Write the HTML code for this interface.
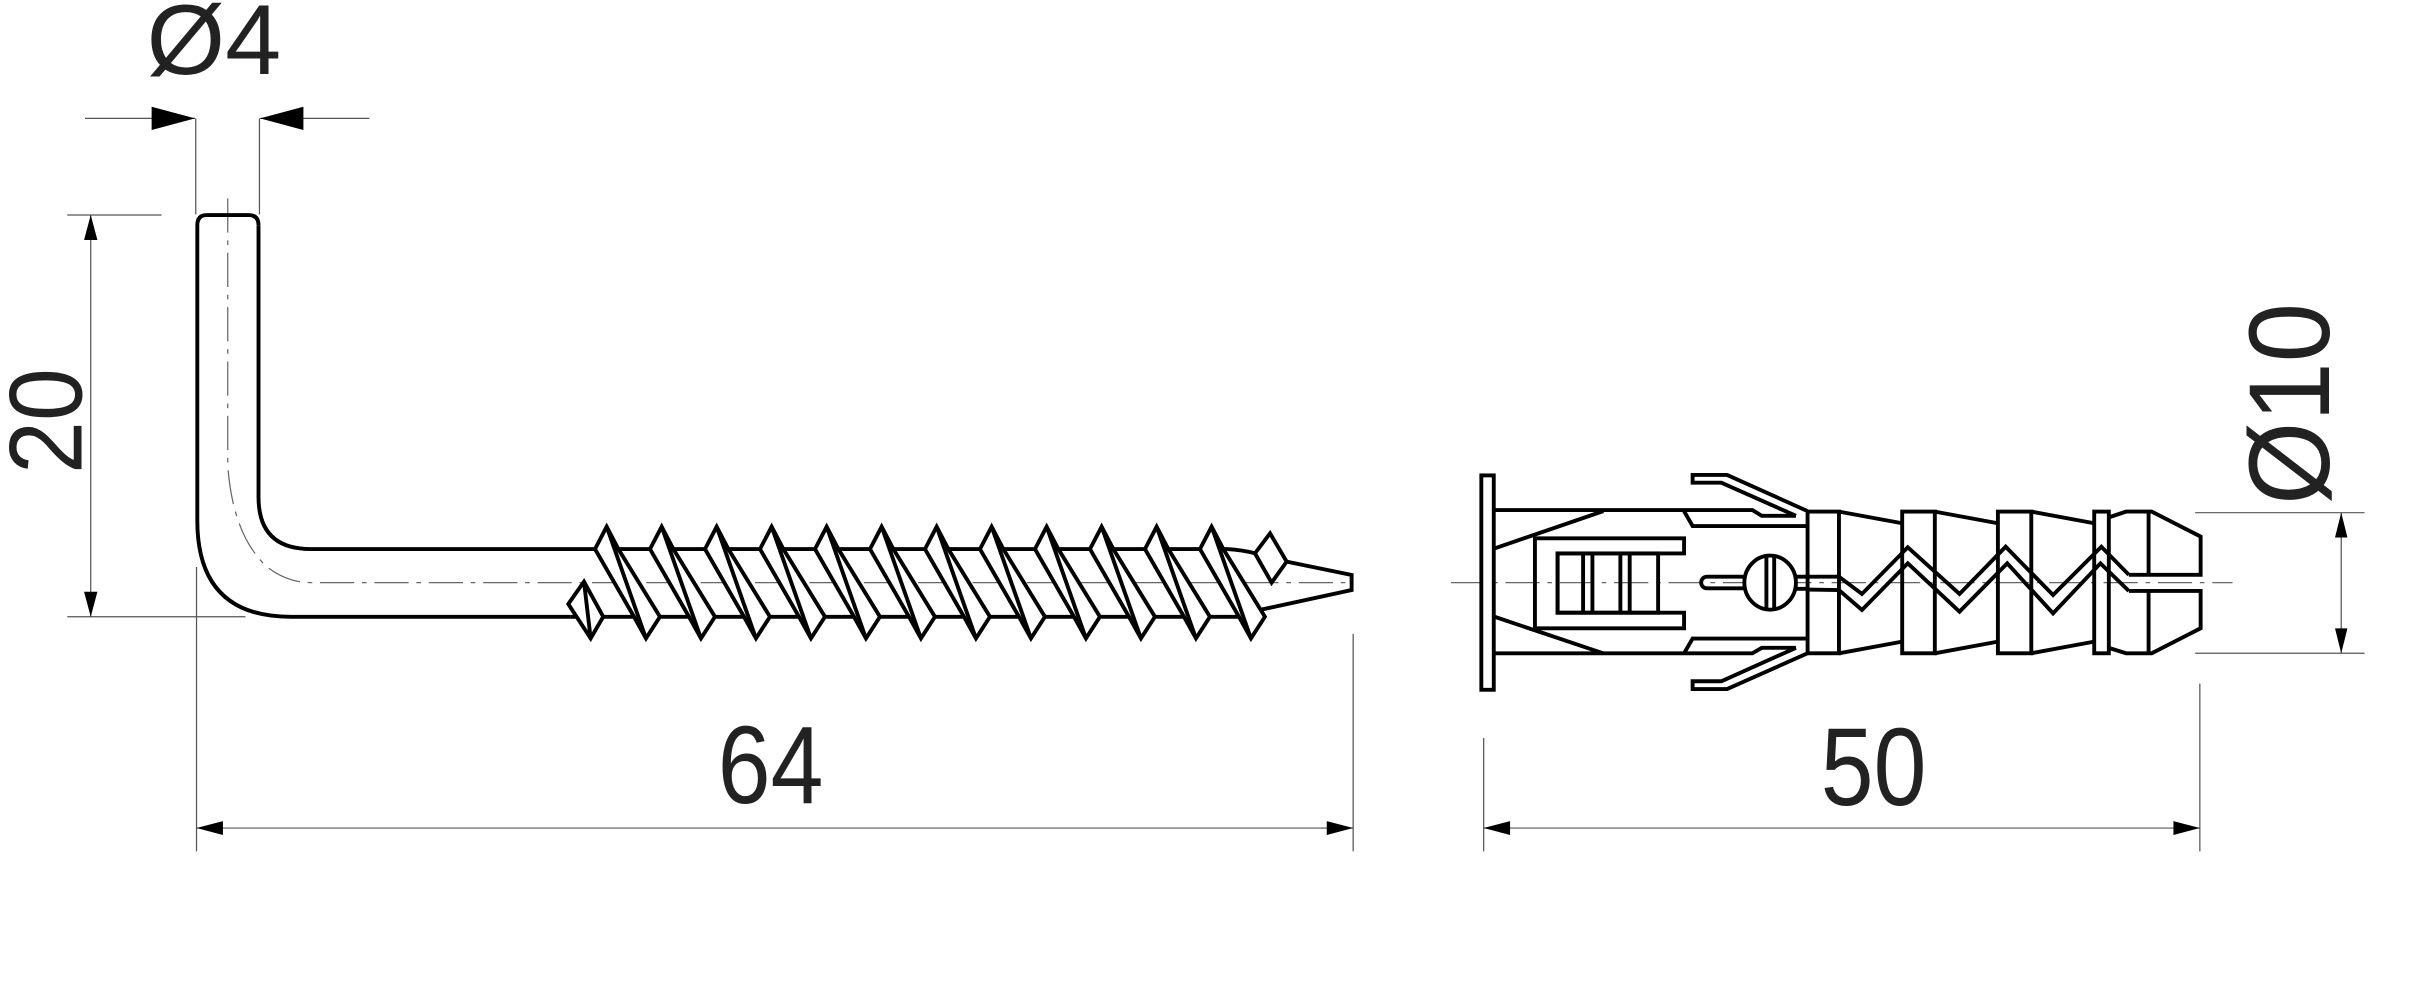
<!DOCTYPE html>
<html><head><meta charset="utf-8"><style>
html,body{margin:0;padding:0;background:#fff;}
svg{display:block;}
text{font-family:"Liberation Sans",Arial,sans-serif;fill:#222;}
</style></head><body>
<svg width="2436" height="987" viewBox="0 0 1568 635.3" xmlns="http://www.w3.org/2000/svg">
<defs>
<g id="thr">
<polygon points="390.5,339 383,353.4 408.1,397 415.8,410.9 424.8,397 398,353.4" fill="#fff" stroke="#000" stroke-width="2.5" stroke-linejoin="miter"/>
<line x1="390.5" y1="339" x2="415.8" y2="410.9" stroke="#000" stroke-width="2.5"/>
</g>
</defs>
<rect width="1568" height="635.3" fill="#fff"/>
<g stroke="#555" stroke-width="0.8" fill="none">
<line x1="54.7" y1="76.2" x2="125.5" y2="76.2"/>
<line x1="167.4" y1="76.2" x2="237.8" y2="76.2"/>
<line x1="126" y1="76.2" x2="126" y2="138"/>
<line x1="167" y1="76.2" x2="167" y2="138"/>
<line x1="43.3" y1="138.4" x2="104" y2="138.4"/>
<line x1="43.3" y1="397" x2="158" y2="397"/>
<line x1="58.4" y1="138.4" x2="58.4" y2="397"/>
<line x1="126.5" y1="365" x2="126.5" y2="548"/>
<line x1="871" y1="408" x2="871" y2="548"/>
<line x1="126.5" y1="533" x2="871" y2="533"/>
<line x1="955" y1="475" x2="955" y2="548"/>
<line x1="1416" y1="440" x2="1416" y2="548"/>
<line x1="955" y1="533" x2="1416" y2="533"/>
<line x1="1413" y1="330" x2="1522" y2="330"/>
<line x1="1413" y1="420.5" x2="1522" y2="420.5"/>
<line x1="1507" y1="330" x2="1507" y2="420.5"/>
</g>
<g fill="#000">
<polygon points="125.5,76.2 97.6,68.7 97.6,83.7"/>
<polygon points="167.4,76.2 195.3,68.7 195.3,83.7"/>
<polygon points="58.4,138.4 54.1,154.5 62.7,154.5"/>
<polygon points="58.4,397 54.1,380.9 62.7,380.9"/>
<polygon points="126.5,533 143.5,528.5 143.5,537.5"/>
<polygon points="871,533 854,528.5 854,537.5"/>
<polygon points="955,533 972,528.5 972,537.5"/>
<polygon points="1416,533 1399,528.5 1399,537.5"/>
<polygon points="1507,330 1503,346 1511,346"/>
<polygon points="1507,420.5 1503,404.5 1511,404.5"/>
</g>
<g stroke="#666" stroke-width="0.8" fill="none" stroke-dasharray="22,5,3,5">
<path d="M146.6,127.7 V300 Q150,345 172,365 Q185,375 200,375 H870"/>
<line x1="934" y1="375" x2="1437" y2="375"/>
</g>
<g stroke="#000" stroke-width="2.5" fill="none" stroke-linejoin="round">
<path d="M166.4,145 V320 Q166.4,353.4 200,353.4 H790 Q800,354 808,356.2"/>
<path d="M166.4,145 Q166.4,138.4 160,138.4 H133 Q127,138.4 127,145 V335 Q127,397 187,397 H367"/>
<line x1="367" y1="397" x2="800" y2="397"/>
</g>
<use href="#thr"/>
<use href="#thr" x="35.4"/>
<use href="#thr" x="70.8"/>
<use href="#thr" x="106.2"/>
<use href="#thr" x="141.6"/>
<use href="#thr" x="177"/>
<use href="#thr" x="212.4"/>
<use href="#thr" x="247.8"/>
<use href="#thr" x="283.2"/>
<use href="#thr" x="318.6"/>
<use href="#thr" x="354"/>
<use href="#thr" x="389.4"/>
<g stroke="#000" stroke-width="2.5" fill="#fff" stroke-linejoin="miter">
<polygon points="365.8,388.8 375.9,374.4 388.3,397 380.2,410.9"/>
<line x1="375.9" y1="374.4" x2="380.2" y2="410.9"/>
<polygon points="807.8,356.2 817.5,343.3 828.2,361.5 818.5,375"/>
<polyline fill="none" points="828.2,361.5 870,370.1 870,379.8 811,392.6"/>
</g>
<g stroke="#000" stroke-width="2.5" fill="none" stroke-linejoin="miter">
<rect x="953.5" y="306" width="8" height="138" fill="#fff"/>
<path d="M962,328.3 H1128 L1134,332 H1156"/>
<path d="M962,420.5 H1128 L1134,417 H1156"/>
<path d="M962,353 L1032,329"/>
<path d="M962,397 L1032,420.5"/>
<path d="M1084,329 L1089.5,338.6 H1163.5"/>
<path d="M1084,420.5 L1089.5,411 H1163.5"/>
<path d="M1156,332 L1108,310.7 H1089.5 V305.7 H1111.7 L1163.5,329"/>
<path d="M1156,417 L1108,438.5 H1089.5 V443.5 H1111.7 L1163.5,420.5"/>
<path d="M1084,346.5 H988 V404.4 H1084 V394.4 H1002.6 V356.2 H1084 Z"/>
<rect x="1002.6" y="356.2" width="64.7" height="38.2"/>
<line x1="1019" y1="356.2" x2="1019" y2="394.4"/>
<line x1="1025" y1="356.2" x2="1025" y2="394.4"/>
<line x1="1043" y1="356.2" x2="1043" y2="394.4"/>
<line x1="1049" y1="356.2" x2="1049" y2="394.4"/>
<rect x="1095" y="371.2" width="30" height="7.5" rx="3.7"/>
<ellipse cx="1139.4" cy="375" rx="16.6" ry="17.4" fill="#fff"/>
<line x1="1137" y1="358" x2="1137" y2="392"/>
<line x1="1142" y1="358" x2="1142" y2="392"/>
<line x1="1156" y1="371.2" x2="1163.5" y2="371.2"/>
<line x1="1156" y1="379" x2="1163.5" y2="379"/>
<rect x="1163.5" y="329.3" width="20.2" height="91.2"/>
<rect x="1224.4" y="329.3" width="21" height="91.2"/>
<rect x="1286" y="329.3" width="21.5" height="91.2"/>
<rect x="1348" y="329.3" width="9.4" height="91.2"/>
<path d="M1183.7,329.3 L1224.4,336.8 M1245.4,329.3 L1286,336.8 M1307.5,329.3 L1348,336.8"/>
<path d="M1183.7,420.5 L1224.4,413 M1245.4,420.5 L1286,413 M1307.5,420.5 L1348,413"/>
<path d="M1357.4,333 L1368.5,329.3 H1385 L1416.5,345.4 V370 H1370.3"/>
<path d="M1357.4,417 L1368.5,420.5 H1385 L1416.5,404.4 V380.4 H1370.3"/>
<line x1="1383" y1="329.3" x2="1383" y2="370"/>
<line x1="1383" y1="380.4" x2="1383" y2="420.5"/>
<polyline points="1163.5,371.2 1183.7,371.2 1198.5,382.3 1228,352.3 1261.3,382.3 1291,351.9 1321.5,383 1352.6,351.9 1370.3,370"/>
<polyline points="1163.5,379.5 1183.7,379.8 1198.5,392.6 1228,362.6 1261.3,393.7 1292,362.6 1321.5,394.8 1352,362.6 1370.3,380.4"/>
</g>
<text x="94.4" y="47.6" font-size="64" textLength="86.6" lengthAdjust="spacingAndGlyphs">Ø4</text>
<text transform="translate(52.5,271) rotate(-90)" font-size="67" text-anchor="middle" textLength="68" lengthAdjust="spacingAndGlyphs">20</text>
<text x="462" y="517" font-size="71" textLength="68" lengthAdjust="spacingAndGlyphs">64</text>
<text x="1172" y="518" font-size="71" textLength="68" lengthAdjust="spacingAndGlyphs">50</text>
<text transform="translate(1499,260) rotate(-90)" font-size="74" text-anchor="middle" textLength="130" lengthAdjust="spacingAndGlyphs">Ø10</text>
</svg>
</body></html>
